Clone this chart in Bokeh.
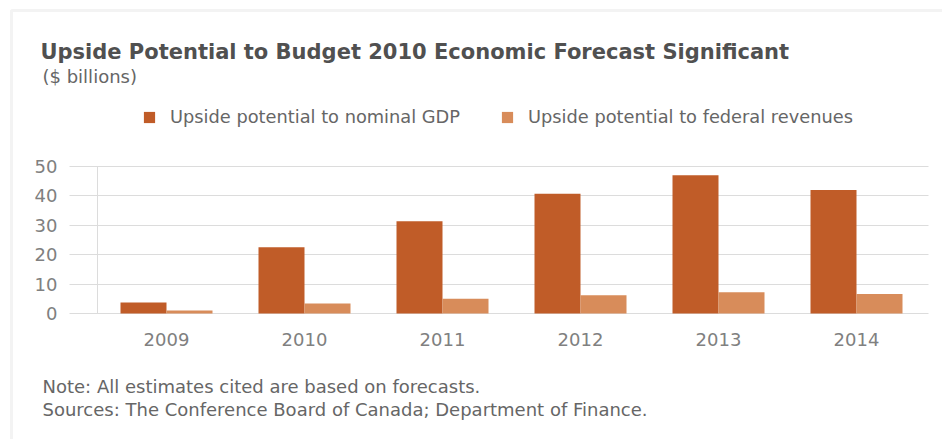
from bokeh.plotting import figure
from bokeh.models import (Label, Legend, LegendItem, BoxAnnotation,
                          FixedTicker, ColumnDataSource)
from bokeh.transform import dodge
from bokeh.embed import file_html
from bokeh.resources import INLINE

# ---- data ----
years = ["2009", "2010", "2011", "2012", "2013", "2014"]
gdp_upside = [3.7, 22.5, 31.4, 40.7, 47.0, 42.0]
revenue_upside = [1.0, 3.4, 5.0, 6.2, 7.2, 6.6]
series_names = ["Upside potential to nominal GDP", "Upside potential to federal revenues"]
title_text = "Upside Potential to Budget 2010 Economic Forecast Significant"
subtitle_text = "($ billions)"
note_text = "Note: All estimates cited are based on forecasts."
source_text = "Sources: The Conference Board of Canada; Department of Finance."
y_ticks = [0, 10, 20, 30, 40, 50]

FONT = "DejaVu Sans"
GDP_COLOR = "#c05c28"
REV_COLOR = "#d88c5a"
TEXT_COLOR = "#666666"
TICK_COLOR = "#808080"
GRID_COLOR = "#dcdcdc"

W, H = 942, 439
# plot-area geometry (pixels on the page)
PX_LEFT, PX_RIGHT = 69, 928      # where the grid lines run
PX_Y0, PX_Y50 = 313, 166         # value 0 and value 50
CAT_W = 138.0                    # pixels per category
FIRST_CAT_PX = 166.0             # centre of first category

px_per_val = (PX_Y0 - PX_Y50) / 50.0
x_start = -FIRST_CAT_PX / CAT_W
x_end = (W - FIRST_CAT_PX) / CAT_W
y_start = -(H - PX_Y0) / px_per_val
y_end = PX_Y0 / px_per_val

idx = list(range(len(years)))
src = ColumnDataSource(dict(x=idx, gdp=gdp_upside, rev=revenue_upside))

p = figure(width=W, height=H, output_backend="svg", toolbar_location=None,
           x_range=(x_start, x_end), y_range=(y_start, y_end),
           min_border=0, min_border_left=0, min_border_right=0,
           min_border_top=0, min_border_bottom=0)
p.outline_line_color = None
p.background_fill_color = "white"
p.border_fill_color = "white"

bw = 1.0 / 3.0
r1 = p.vbar(x=dodge("x", -bw / 2, range=p.x_range), top="gdp", width=bw,
            source=src, fill_color=GDP_COLOR, line_color=None)
r2 = p.vbar(x=dodge("x", bw / 2, range=p.x_range), top="rev", width=bw,
            source=src, fill_color=REV_COLOR, line_color=None)

# axes placed inside the canvas
xa = p.xaxis[0]
ya = p.yaxis[0]
xa.ticker = FixedTicker(ticks=idx)
xa.major_label_overrides = {i: y for i, y in zip(idx, years)}
xa.fixed_location = 0
xa.axis_line_color = None
xa.major_label_standoff = 13

ya.ticker = FixedTicker(ticks=y_ticks)
ya.fixed_location = -0.5
ya.bounds = (0, 50)
ya.axis_line_color = GRID_COLOR
ya.axis_line_width = 1
ya.major_label_standoff = 34

for ax in (xa, ya):
    ax.major_tick_line_color = None
    ax.minor_tick_line_color = None
    ax.major_label_text_font = FONT
    ax.major_label_text_font_size = "18px"
    ax.major_label_text_color = TICK_COLOR

p.xgrid.grid_line_color = None
p.ygrid.grid_line_color = GRID_COLOR
p.ygrid.grid_line_width = 1
try:
    p.ygrid.cross_bounds = ((PX_LEFT - FIRST_CAT_PX) / CAT_W, (PX_RIGHT - FIRST_CAT_PX) / CAT_W)
except Exception:
    pass

# outer frame (top and left edges visible)
p.add_layout(BoxAnnotation(left=11, right=W + 50, top=H - 10, bottom=-50,
                           left_units="screen", right_units="screen",
                           top_units="screen", bottom_units="screen",
                           fill_color=None, line_color="#d6d6d6", line_width=3,
                           level="overlay"))

def lab(text, cx, cy_base, size, style="normal", color=TEXT_COLOR):
    p.add_layout(Label(x=cx, y=H - cy_base, x_units="screen", y_units="screen",
                       text=text, text_font=FONT, text_font_size=size,
                       text_font_style=style, text_color=color,
                       text_baseline="alphabetic", text_align="left"))

lab(title_text, 40, 51, "21px", "bold", "#505050")
lab(subtitle_text, 42, 76, "18px")
lab(note_text, 42, 386, "18px")
lab(source_text, 42, 409, "18px")

legend = Legend(items=[LegendItem(label=series_names[0], renderers=[r1]),
                       LegendItem(label=series_names[1], renderers=[r2])],
                orientation="horizontal", location=(142, H - 127),
                padding=0, margin=0, border_line_color=None, background_fill_alpha=0,
                glyph_width=14, glyph_height=14, label_height=14, label_standoff=14,
                spacing=40, label_text_font=FONT, label_text_font_size="17.8px",
                label_text_color=TEXT_COLOR)
p.add_layout(legend)

open("out.html", "w").write(file_html(p, INLINE))
